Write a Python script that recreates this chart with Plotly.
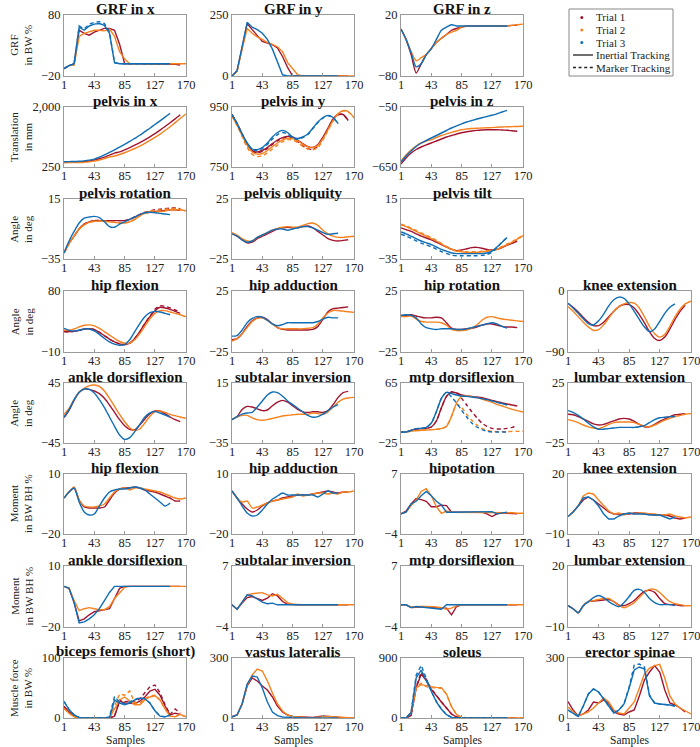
import plotly.graph_objects as go

# ---------------- data ----------------
S_ALL = [1, 8, 15, 22, 29, 36, 43, 50, 57, 64, 71, 78, 85, 92, 99, 106, 113, 120, 127, 134, 141, 148, 155, 162, 170]
X_TICKS = [1, 43, 85, 127, 170]
TRIAL_NAMES = ["Trial 1", "Trial 2", "Trial 3"]
TRIAL_COLORS = ["#A2142F", "#F5821F", "#0F6EB5"]
TRACKING_NAMES = ["Inertial Tracking", "Marker Tracking"]

# GRF in BW %
GRF_X_T1 = [-8, -3, 0, 55, 50, 47, 52, 55, 58, 58, 55, 32, 0, 0, 0, 0, 0, 0, 0, 0, 0, 0, -1, -2]
GRF_X_T2 = [-8, -3, -2, 45, 50, 52, 55, 55, 54, 57, 45, 20, 8, 0, 0, 0, 0, 0, 0, 0, 0, 0, 0, 0, 0]
GRF_X_T3 = [-8, -3, 0, 60, 55, 62, 65, 66, 63, 50, 2, 0, 0, 0, 0, 0, 0, 0, 0, 0, 0, 0]
GRF_X_T3M = [-8, -3, 0, 62, 57, 65, 68, 69, 66, 52, 2, 0, 0, 0, 0, 0, 0, 0, 0, 0, 0, 0]
GRF_Y_T1 = [0, 20, 115, 215, 190, 165, 142, 135, 128, 115, 80, 35, 0, 0, 0, 0, 0, 0, 0, 0, 0, 0, 0, 0]
GRF_Y_T2 = [0, 20, 110, 195, 175, 160, 150, 137, 130, 120, 100, 55, 30, 5, 0, 0, 0, 0, 0, 0, 0, 0, 0, 0, 0]
GRF_Y_T3 = [0, 22, 120, 220, 200, 190, 175, 150, 110, 60, 5, 0, 0, 0, 0, 0, 0, 0, 0, 0, 0, 0]
GRF_Z_T1 = [-3, -20, -45, -75, -60, -45, -35, -25, -18, -12, -5, -2, 0, 2, 2, 2, 2, 2, 2, 2, 2, 2, 3, 3]
GRF_Z_T2 = [-3, -20, -40, -55, -50, -45, -35, -25, -18, -12, -8, -5, 0, 2, 2, 2, 2, 2, 2, 2, 2, 2, 3, 4, 5]
GRF_Z_T3 = [-3, -20, -42, -65, -60, -45, -35, -20, -5, 0, 4, 2, 2, 2, 2, 2, 2, 2, 2, 2, 2, 2]

# Translation in mm
PELVIS_X_T1 = [390, 392, 395, 400, 410, 425, 450, 490, 540, 595, 655, 690, 750, 815, 885, 960, 1040, 1130, 1225, 1325, 1430, 1540, 1655, 1775]
PELVIS_X_T2 = [375, 377, 380, 383, 390, 400, 420, 455, 495, 540, 570, 615, 665, 725, 790, 860, 940, 1025, 1115, 1210, 1315, 1425, 1545, 1665, 1797]
PELVIS_X_T3 = [405, 407, 410, 418, 430, 450, 480, 540, 605, 675, 750, 830, 910, 995, 1085, 1175, 1280, 1380, 1490, 1595, 1705, 1818]
PELVIS_Y_T1 = [925, 895, 860, 828, 805, 800, 805, 815, 828, 840, 848, 852, 850, 840, 828, 818, 815, 825, 850, 880, 910, 925, 925, 905]
PELVIS_Y_T2 = [920, 890, 855, 822, 800, 793, 795, 805, 818, 830, 840, 846, 845, 838, 826, 818, 815, 822, 845, 875, 905, 928, 938, 935, 915]
PELVIS_Y_T3 = [925, 895, 860, 830, 810, 808, 815, 830, 850, 865, 872, 865, 850, 845, 850, 860, 880, 900, 915, 922, 915, 895]
PELVIS_Y_T1M = [925, 895, 860, 826, 802, 797, 802, 812, 825, 837, 845, 849, 846, 834, 821, 811, 809, 820, 846, 878, 908, 924, 924, 904]
PELVIS_Y_T2M = [920, 888, 852, 815, 792, 785, 787, 797, 810, 823, 834, 841, 840, 832, 819, 810, 807, 815, 840, 872, 903, 927, 937, 934, 914]
PELVIS_Y_T3M = [925, 895, 860, 829, 808, 805, 811, 825, 843, 858, 865, 860, 847, 842, 848, 858, 878, 898, 913, 921, 914, 894]
PELVIS_Z_T1 = [-620, -560, -510, -475, -450, -428, -410, -390, -370, -350, -335, -320, -307, -297, -290, -284, -280, -278, -277, -278, -280, -283, -287, -293]
PELVIS_Z_T2 = [-590, -530, -480, -440, -410, -390, -377, -355, -335, -318, -303, -290, -278, -270, -265, -262, -260, -258, -256, -252, -250, -248, -246, -245, -243]
PELVIS_Z_T3 = [-600, -540, -490, -445, -410, -385, -360, -335, -310, -285, -260, -238, -218, -200, -185, -170, -157, -145, -133, -118, -100, -83]

# Pelvis angles in deg
PELVIS_ROT_T1 = [-30, -22, -16, -10, -6, -4, -3, -3, -3, -3, -3, -3, -3, -2, 0, 2, 3.5, 4, 4.5, 5, 5.5, 6, 6, 5.5]
PELVIS_ROT_T2 = [-30, -22, -16, -10, -6.5, -4.5, -3.5, -3.5, -3.5, -4, -4.5, -5, -5, -4, -2, 1, 3, 4, 4, 4.5, 5, 6, 6, 6, 5]
PELVIS_ROT_T3 = [-30, -20, -12, -5, -1, 0, 0.5, -0.5, -4, -8, -8.5, -6, -4, -2, 0, 2, 3.5, 4, 3.5, 3, 2.5, 2]
PELVIS_ROT_T1M = [-30, -22, -16, -10, -6, -4, -3, -3, -3, -3, -3, -3, -3, -2, 0, 2, 4, 5, 6, 6.5, 7, 7.5, 7.5, 7]
PELVIS_ROT_T2M = [-30, -22, -16, -10, -6.5, -4.5, -3.5, -3.5, -3.5, -4, -4.5, -5, -5, -4, -2, 1, 3.5, 5, 5.5, 6, 6.5, 7, 7, 6.5, 5.5]
PELVIS_OBL_T1 = [-4, -6, -9, -11.5, -11, -8, -6, -4, -2, 0, 1, 1.5, 1, 1, 2, 2.5, 1, -2, -5, -8, -9.5, -10, -9.5, -9]
PELVIS_OBL_T2 = [-3, -5, -8, -10, -10, -7, -5, -3, -1, 0.5, 1.5, 2, 1.5, 1.5, 3, 4.5, 5, 3, -1, -4, -6, -7, -7, -6.5, -6]
PELVIS_OBL_T3 = [-4, -6, -9, -11, -10, -7, -5, -3, -1, 0, 0, -1, 0, 1, 2, 2, 1, -1, -3, -4.5, -4, -3.5]
PELVIS_TILT_T1 = [-9, -10.5, -12, -14, -16, -17.5, -19, -21, -23, -25, -27, -28, -27.5, -26.5, -25.5, -25.3, -26, -27, -27.5, -27, -25.5, -23.5, -22, -20]
PELVIS_TILT_T2 = [-6.5, -8, -10, -12, -14, -16, -18, -20, -22.5, -25, -27, -28.5, -29, -29.5, -29.5, -29.5, -29, -28.5, -28, -27, -25, -23, -21, -18.5, -15.5]
PELVIS_TILT_T3 = [-12.5, -14, -16, -18, -20, -21.5, -23, -25, -27, -28.5, -30, -30.5, -30.5, -30.5, -30.5, -30.5, -30.5, -30, -28.5, -25, -21, -17]
PELVIS_TILT_T2M = [-6, -7.3, -9.2, -11.2, -13.2, -15.2, -17.2, -19.5, -22, -24.5, -26.5, -28, -28.5, -29, -29, -29, -28.6, -28, -27.5, -26.5, -24.5, -22.5, -20.5, -18, -15.5]
PELVIS_TILT_T3M = [-14.3, -15.8, -17.8, -19.8, -21.8, -23.3, -24.8, -26.8, -28.8, -30.3, -31.8, -32.3, -32.3, -32.3, -32.3, -32.3, -32, -31.3, -29.5, -25.5, -21, -17]

# Joint angles in deg
HIP_FLEX_T1 = [20, 20, 20.5, 22, 24, 24.5, 23, 19, 14, 9, 5, 2, 1, 3, 10, 20, 32, 42, 51, 56, 55, 53, 50, 47]
HIP_FLEX_T2 = [22, 22, 24, 27, 29.5, 30, 28.5, 25, 20, 15, 10, 5.5, 3, 3, 8, 17, 28, 39, 47, 51, 51, 49, 47, 45, 42]
HIP_FLEX_T3 = [25, 22, 21, 22, 24, 24, 21, 16, 10, 5, 1.5, 0, 1, 8, 20, 32, 42, 48, 50, 49, 47, 45]
HIP_FLEX_T1M = [20, 20, 20.5, 22, 24, 24.5, 23, 19, 14, 9, 5, 2, 1, 3, 10, 20, 32, 43, 53, 58, 57.5, 55, 52, 49]
HIP_ADD_T1 = [-15, -14, -10, -4, 0.5, 3, 3.5, 1.5, -2, -5, -6.5, -7, -7, -7, -7, -7, -6.5, -4, 2, 8, 10.5, 11, 11.5, 12]
HIP_ADD_T2 = [-16, -14, -10, -5, 0, 2.5, 3, 1, -2, -5, -6, -6, -6, -6, -6, -5.5, -5, -2, 3, 7, 9, 9, 8.5, 8, 7.5]
HIP_ADD_T3 = [-12, -11.5, -7, -1, 2.5, 4, 3.5, 1, -2, -3.5, -2.5, -1, -1, -1, -1, -1, -1, 0, 2, 3.5, 3, 3]
HIP_ROT_T1 = [5, 5, 5.5, 4.5, 3.5, 3, 3, 3.5, 3, -1, -5.5, -6.5, -6.5, -6, -5.5, -4.5, -3, -2, -2, -3, -4, -4.5, -4.5, -5]
HIP_ROT_T2 = [4, 4, 4.5, 2, 0, -0.5, -0.5, -0.5, -1, -3, -6.5, -7.5, -7.5, -7, -5.5, -3, 1, 3.5, 4, 3, 2, 1.5, 1, 0.5, 0]
HIP_ROT_T3 = [5, 5.5, 5, 3, -2, -5, -6, -6.5, -6, -6, -6, -6.5, -6.5, -6, -5, -4, -3, -2, -1, -2, -4, -5.5]
KNEE_EXT_T1 = [-18, -24, -31, -39, -46, -51, -51, -46, -38, -30, -23, -20, -20, -25, -35, -47, -60, -70, -73, -68, -56, -42, -30, -21]
KNEE_EXT_T2 = [-23, -30, -38, -46, -53, -58, -57, -50, -40, -30, -23, -19, -17, -18, -25, -38, -52, -63, -68, -64, -52, -38, -27, -19, -15]
KNEE_EXT_T3 = [-18, -25, -33, -41, -48, -50, -44, -34, -22, -13, -9, -11, -19, -30, -42, -53, -60, -56, -45, -33, -24, -19]
ANKLE_DF_T1 = [-7, 4, 19, 31, 36, 35.5, 33, 29, 22, 12, 1, -10, -19, -24.5, -25, -18, -9, -1, 3, 3, -1, -6, -10, -13]
ANKLE_DF_T2 = [-2, 7, 20, 31, 37, 41, 42, 40, 33, 22, 10, -2, -13, -22, -26, -24, -15, -5, 2, 3, 1, -2, -4, -6, -8]
ANKLE_DF_T3 = [-6, 5, 20, 31, 36, 35.5, 30, 20, 8, -6, -20, -33, -39.5, -37, -28, -17, -6, 0, 2, 0, -3, -6]
SUB_INV_T1 = [-15.5, -13, -7, -4.5, -5, -6.5, -8, -7.5, -4, -1, 0.5, -1, -4, -7, -9, -9.5, -9, -9, -9.5, -8, -3, 3, 7, 8]
SUB_INV_T2 = [-15.5, -13.5, -12, -12, -14, -15.5, -16, -15.5, -14.5, -13.5, -12.5, -12, -11.5, -11, -11, -11, -10, -10.5, -11, -9, -5, -1, 1.5, 2.5, 3]
SUB_INV_T3 = [-15.5, -13, -11, -10, -9.5, -5, 0, 5, 7.5, 7, 4, 0, -3, -6, -9, -12, -13.5, -13, -11, -8, -5, -3]
MTP_DF_T1 = [-8.5, -8.5, -6, -4, -3.5, -3, -1, 8, 28, 45, 51.5, 50, 47, 45.5, 45, 44, 43, 41, 39, 37, 35, 33.5, 32, 30.5]
MTP_DF_T2 = [-8.5, -8.5, -7, -6.5, -6, -5.5, -5, -4.5, -3.5, 0, 15, 35, 45, 45.5, 44.5, 43, 41, 38.5, 36, 33, 30.5, 28, 25.5, 23.5, 21.5]
MTP_DF_T3 = [-8.5, -8.5, -6, -3.5, -3, -1.5, 5, 22, 42, 51, 49, 47, 45.5, 45, 44, 43, 41.5, 40, 38, 36, 34, 32]
MTP_DF_T1M = [-8.5, -8.5, -6, -4, -3.5, -3, -1, 8, 28, 45, 51.5, 50, 42, 32, 22, 13, 5, 0, -3, -4, -4, -3, -1.5, 0.5]
MTP_DF_T2M = [-8.5, -8.5, -7, -6.5, -6, -5.5, -5, -4.5, -3.5, 0, 15, 33, 28, 18, 9, 2, -3, -6, -7.5, -8, -8, -8, -7.5, -7.5, -7.5]
MTP_DF_T3M = [-8.5, -8.5, -6, -3.5, -3, -1.5, 5, 22, 42, 51, 44, 35, 24, 14, 5, -1, -5, -7.5, -8.5, -8.5, -8.5, -8.5]
LUMBAR_EXT_T1 = [-1, -1.5, -3, -5, -7, -9, -10, -9.5, -8, -6.5, -5, -4.5, -5, -7, -9.5, -11.5, -11.5, -9.5, -7, -5, -3, -1.5, -1, -0.5]
LUMBAR_EXT_T2 = [-5.5, -6.5, -8, -10, -11.5, -12.5, -13, -11.5, -9.5, -8, -7.5, -7.5, -7.5, -8, -9.5, -11, -11.5, -10, -8, -6, -4.5, -3, -2, -1, -0.5]
LUMBAR_EXT_T3 = [2, 0.5, -2, -5, -8.5, -11.5, -13.5, -13.5, -13, -12.5, -12, -12, -12, -12, -11.5, -10.5, -8, -5.5, -4, -3.5, -3, -3]

# Moments in BW BH %
M_HIP_FLEX_T1 = [-2, 1, 3, -3, -6.5, -7, -7, -7, -6.5, -3, 0.5, 2.5, 3, 3, 3.5, 3, 2, 1.5, 1, 0, -1, -2, -3.5, -3.5]
M_HIP_FLEX_T2 = [-2, 1, 3.5, -3, -6, -6.5, -6.5, -6, -5, -2, 1, 2.5, 3, 2, 3, 3, 2.5, 2, 1.5, 1, 0, -1, -2, -2.5, -2]
M_HIP_FLEX_T3 = [-2, 1, 3, -4, -9, -10.5, -10, -6, -2, 1, 2, 2.5, 2.5, 3, 3.5, 3, 2, 0, -2, -4, -6, -4.5]
M_HIP_ADD_T1 = [1.5, -2, -5, -7.5, -9, -8, -6, -4.5, -3.5, -3, -2, -1.5, -1, -0.5, -0.5, -0.5, 0, 0.5, 1, 1.5, 1, 0.5, 1, 1]
M_HIP_ADD_T2 = [1.5, -2, -4, -3.5, -7, -6.5, -5.5, -4.5, -3.5, -3, -2.5, -2, -1.5, 0, -1, -0.5, 0, 0.5, 0.5, 0, 0.5, 0, 1, 1, 1.5]
M_HIP_ADD_T3 = [1.5, -2, -6, -9.5, -11, -10.5, -8, -5, -2.5, -1, 0.5, -0.5, -0.5, -0.5, -0.5, -0.5, -0.5, -1.5, 0, 1.5, 0.5, 0.5]
M_HIP_ROT_T1 = [-0.3, 0.2, 1.5, 2.5, 2.3, 2, 1, 1, 1.3, 1.2, 0, 0, 0, 0, -0.1, 0, 0, -0.3, -0.8, -0.3, -0.1, -0.2, -0.2, -0.3]
M_HIP_ROT_T2 = [-0.3, 0, 1.2, 2.2, 3.8, 4.3, 3, 1, -0.2, 0.2, 0, 0, 0, 0, 0, 0, 0, 0, -0.1, 0, 0, -0.1, -0.1, -0.2, -0.2]
M_HIP_ROT_T3 = [-0.3, 0, 1.5, 2, 3, 3.8, 3, 2, 1.3, 0, 0, 0, 0, 0, 0, 0, 0, 0, 0.1, -0.3, -0.2, 0]
M_KNEE_EXT_T1 = [-1.3, 1, 4, 7, 8.5, 7, 5, 3, 1, 0, 0, 0, 0, 0.5, 0.5, 0, 0, -0.5, -0.5, -0.5, -1, -2, -2.5, -2]
M_KNEE_EXT_T2 = [-1.3, 1, 4, 9, 10.5, 10, 7, 4, 1.5, 0, 0.5, -0.5, 0.5, 0, 0.5, 0.5, 0, 0, -0.5, -0.5, 0, -1, -1.5, -2, -1.5]
M_KNEE_EXT_T3 = [-1.3, 1, 4, 8, 8.5, 7, 4, 0, -2.5, -2.5, -1, 0, 0.5, 0, 0, 0, -0.5, -0.5, -0.5, -1.5, -2.5, -1.5]
M_ANKLE_DF_T1 = [0, -1, -8, -17, -16, -14, -12.5, -12, -11.5, -11, -6, -1, 0, 0, 0, 0, 0, 0, 0, 0, 0, 0, 0, 0]
M_ANKLE_DF_T2 = [0, -1, -7, -12, -11, -10.5, -11, -11.5, -11.5, -10, -6, -3, -0.5, 0, 0, 0, 0, 0, 0, 0, 0, 0, 0, 0, 0]
M_ANKLE_DF_T3 = [0, -1, -8, -18, -17.5, -16, -14, -11, -7, -3, 0, 0, 0, 0, 0, 0, 0, 0, 0, 0, 0, 0]
M_SUB_INV_T1 = [0, -0.8, 0.3, 1.3, 1.5, 1.2, 0.8, 1.2, 2, 1.6, 0.6, 0.1, 0, 0, 0, 0, 0, 0, 0, 0, 0, 0, 0, 0]
M_SUB_INV_T2 = [0, -0.8, 0.5, 1.8, 2, 2.1, 2.2, 1.8, 1.6, 1.9, 1.2, 0.4, 0.1, 0, 0, 0, 0, 0, 0, 0, 0, 0, 0, 0, 0]
M_SUB_INV_T3 = [0, -0.8, 0.5, 1.8, 1.6, 1, 0.5, 0.2, 0.3, 0, 0, 0, 0, 0, 0, 0, 0, 0, 0, 0, 0, 0]
M_MTP_DF_T1 = [0, 0, -0.5, -0.4, -0.4, -0.4, -0.5, -0.5, -0.6, -0.6, -1.8, -0.3, 0, 0, 0, 0, 0, 0, 0, 0, 0, 0, 0, 0]
M_MTP_DF_T2 = [0, 0, -0.4, -0.3, -0.3, -0.3, -0.3, -0.4, -0.5, -0.8, -0.6, -0.2, 0, 0, 0, 0, 0, 0, 0, 0, 0, 0, 0, 0, 0]
M_MTP_DF_T3 = [0, 0, -0.5, -0.3, -0.4, -0.5, -0.5, -0.6, -0.8, 0, 0, 0, 0, 0, 0, 0, 0, 0, 0, 0, 0, 0]
M_LUMBAR_EXT_T1 = [0.5, -1, -3, 0.5, 2.5, 2.8, 3, 3.3, 3.5, 2.5, 0.8, 0.5, 1.5, 3, 5.5, 7.5, 8, 7, 4, 1.5, 1, 1, 0.5, 0.5]
M_LUMBAR_EXT_T2 = [0.5, -1, -3, 0.5, 2.5, 3, 3.5, 4, 4, 2.5, 0.5, -0.5, 0.5, 2, 4.5, 7, 8.5, 8.5, 7, 4.5, 2.5, 1.5, 1, 0.5, 0.5]
M_LUMBAR_EXT_T3 = [0.5, -1, -3, 0.5, 2.5, 4.5, 5.5, 4.5, 2.5, 1, 0, 2, 5, 8, 8.5, 7, 4, 2, 1, 1, 1, 0.5]

# Muscle forces in BW %
BIC_FEM_T1 = [19, 10, 3, 0.5, 0, 0, 0, 0, 0, 0, 3, 28, 25, 25, 24, 28, 35, 45, 48, 38, 20, 5, 8, 6]
BIC_FEM_T2 = [16, 8, 2, 0, 0, 0, 0, 0, 0, 0, 15, 30, 35, 28, 22, 22, 30, 35, 37, 30, 15, 3, 2, 6, 2]
BIC_FEM_T3 = [27.5, 14, 5, 1, 0, 0, 0, 0, 0, 0, 30, 25, 22, 25, 30, 33, 32, 25, 12, 3, 2, 5]
BIC_FEM_T1M = [19, 10, 3, 0.5, 0, 0, 0, 0, 0, 0, 3, 30, 27, 28, 27, 32, 42, 52, 55, 42, 22, 6, 15, 8]
BIC_FEM_T2M = [16, 8, 2, 0, 0, 0, 0, 0, 0, 0, 20, 40, 38, 45, 25, 24, 32, 37, 38, 30, 15, 3, 2, 6, 2]
BIC_FEM_T3M = [27.5, 14, 5, 1, 0, 0, 0, 0, 0, 2, 36, 26, 24, 27, 31, 34, 32, 25, 12, 3, 2, 5]
VAS_LAT_T1 = [8, 15, 70, 160, 200, 185, 160, 140, 105, 60, 30, 15, 8, 6, 5, 3, 3, 6, 10, 8, 5, 3, 2, 2]
VAS_LAT_T2 = [5, 15, 70, 165, 215, 245, 235, 185, 125, 70, 35, 15, 8, 5, 3, 2, 2, 4, 6, 8, 6, 4, 3, 2, 2]
VAS_LAT_T3 = [5, 15, 70, 170, 210, 205, 150, 80, 30, 12, 5, 3, 2, 1, 0, 0, 0, 0, 0, 0, 0, 0]
SOLEUS_T1 = [0, 0, 40, 450, 660, 560, 430, 330, 240, 150, 60, 15, 0, 0, 0, 0, 0, 0, 0, 8, 5, 0, 0, 0]
SOLEUS_T2 = [0, 0, 80, 450, 500, 480, 470, 460, 455, 360, 170, 50, 10, 5, 0, 0, 0, 0, 0, 0, 0, 0, 0, 0, 0]
SOLEUS_T3 = [0, 0, 80, 600, 720, 560, 380, 240, 130, 50, 10, 0, 0, 0, 0, 0, 0, 0, 0, 0, 0, 0]
SOLEUS_T1M = [0, 0, 40, 470, 690, 580, 440, 335, 240, 150, 60, 15, 0, 0, 0, 0, 0, 0, 0, 8, 5, 0, 0, 0]
SOLEUS_T2M = [0, 0, 80, 470, 520, 470, 455, 450, 445, 360, 170, 50, 10, 5, 0, 0, 0, 0, 0, 0, 0, 0, 0, 0, 0]
SOLEUS_T3M = [0, 0, 85, 640, 790, 600, 400, 250, 135, 50, 10, 0, 0, 0, 0, 0, 0, 0, 0, 0, 0, 0]
ERECTOR_T1 = [82, 40, 10, 20, 40, 80, 75, 90, 75, 30, 20, 15, 30, 40, 110, 190, 230, 262, 230, 140, 75, 65, 50, 30]
ERECTOR_T2 = [55, 30, 10, 20, 30, 50, 75, 100, 80, 40, 25, 20, 50, 80, 150, 220, 250, 262, 268, 200, 110, 70, 50, 35, 20]
ERECTOR_T3 = [40, 25, 8, 60, 120, 145, 130, 95, 60, 25, 40, 70, 150, 240, 255, 245, 110, 75, 70, 68, 65, 60]
ERECTOR_T3M = [40, 25, 8, 60, 120, 145, 130, 95, 60, 25, 40, 70, 155, 265, 270, 255, 115, 75, 70, 68, 65, 60]

ROW_LABELS = ["GRF<br>in BW %", "Translation<br>in mm", "Angle<br>in deg", "Angle<br>in deg",
              "Angle<br>in deg", "Moment<br>in BW BH %", "Moment<br>in BW BH %", "Muscle force<br>in BW %"]

# (row, col, title, ymin, ymax, inertial trials, marker trials, smooth)
PANELS = [
    (0, 0, "GRF in x", -20, 80, [GRF_X_T1, GRF_X_T2, GRF_X_T3], [None, None, GRF_X_T3M], False),
    (0, 1, "GRF in y", 0, 250, [GRF_Y_T1, GRF_Y_T2, GRF_Y_T3], [None, None, None], False),
    (0, 2, "GRF in z", -80, 20, [GRF_Z_T1, GRF_Z_T2, GRF_Z_T3], [None, None, None], True),
    (1, 0, "pelvis in x", 250, 2000, [PELVIS_X_T1, PELVIS_X_T2, PELVIS_X_T3], [None, None, None], True),
    (1, 1, "pelvis in y", 750, 950, [PELVIS_Y_T1, PELVIS_Y_T2, PELVIS_Y_T3], [PELVIS_Y_T1M, PELVIS_Y_T2M, PELVIS_Y_T3M], True),
    (1, 2, "pelvis in z", -650, -50, [PELVIS_Z_T1, PELVIS_Z_T2, PELVIS_Z_T3], [None, None, None], True),
    (2, 0, "pelvis rotation", -35, 15, [PELVIS_ROT_T1, PELVIS_ROT_T2, PELVIS_ROT_T3], [PELVIS_ROT_T1M, PELVIS_ROT_T2M, None], True),
    (2, 1, "pelvis obliquity", -25, 25, [PELVIS_OBL_T1, PELVIS_OBL_T2, PELVIS_OBL_T3], [None, None, None], True),
    (2, 2, "pelvis tilt", -35, 15, [PELVIS_TILT_T1, PELVIS_TILT_T2, PELVIS_TILT_T3], [None, PELVIS_TILT_T2M, PELVIS_TILT_T3M], True),
    (3, 0, "hip flexion", -10, 80, [HIP_FLEX_T1, HIP_FLEX_T2, HIP_FLEX_T3], [HIP_FLEX_T1M, None, None], True),
    (3, 1, "hip adduction", -25, 25, [HIP_ADD_T1, HIP_ADD_T2, HIP_ADD_T3], [None, None, None], True),
    (3, 2, "hip rotation", -25, 25, [HIP_ROT_T1, HIP_ROT_T2, HIP_ROT_T3], [None, None, None], True),
    (3, 3, "knee extension", -90, 0, [KNEE_EXT_T1, KNEE_EXT_T2, KNEE_EXT_T3], [None, None, None], True),
    (4, 0, "ankle dorsiflexion", -45, 45, [ANKLE_DF_T1, ANKLE_DF_T2, ANKLE_DF_T3], [None, None, None], True),
    (4, 1, "subtalar inversion", -35, 15, [SUB_INV_T1, SUB_INV_T2, SUB_INV_T3], [None, None, None], True),
    (4, 2, "mtp dorsiflexion", -25, 65, [MTP_DF_T1, MTP_DF_T2, MTP_DF_T3], [MTP_DF_T1M, MTP_DF_T2M, MTP_DF_T3M], True),
    (4, 3, "lumbar extension", -25, 25, [LUMBAR_EXT_T1, LUMBAR_EXT_T2, LUMBAR_EXT_T3], [None, None, None], True),
    (5, 0, "hip flexion", -20, 10, [M_HIP_FLEX_T1, M_HIP_FLEX_T2, M_HIP_FLEX_T3], [None, None, None], True),
    (5, 1, "hip adduction", -20, 10, [M_HIP_ADD_T1, M_HIP_ADD_T2, M_HIP_ADD_T3], [None, None, None], True),
    (5, 2, "hipotation", -4, 7, [M_HIP_ROT_T1, M_HIP_ROT_T2, M_HIP_ROT_T3], [None, None, None], False),
    (5, 3, "knee extension", -10, 20, [M_KNEE_EXT_T1, M_KNEE_EXT_T2, M_KNEE_EXT_T3], [None, None, None], False),
    (6, 0, "ankle dorsiflexion", -20, 10, [M_ANKLE_DF_T1, M_ANKLE_DF_T2, M_ANKLE_DF_T3], [None, None, None], False),
    (6, 1, "subtalar inversion", -4, 7, [M_SUB_INV_T1, M_SUB_INV_T2, M_SUB_INV_T3], [None, None, None], False),
    (6, 2, "mtp dorsiflexion", -4, 7, [M_MTP_DF_T1, M_MTP_DF_T2, M_MTP_DF_T3], [None, None, None], False),
    (6, 3, "lumbar extension", -10, 20, [M_LUMBAR_EXT_T1, M_LUMBAR_EXT_T2, M_LUMBAR_EXT_T3], [None, None, None], True),
    (7, 0, "biceps femoris (short)", 0, 100, [BIC_FEM_T1, BIC_FEM_T2, BIC_FEM_T3], [BIC_FEM_T1M, BIC_FEM_T2M, BIC_FEM_T3M], False),
    (7, 1, "vastus lateralis", 0, 300, [VAS_LAT_T1, VAS_LAT_T2, VAS_LAT_T3], [None, None, None], False),
    (7, 2, "soleus", 0, 900, [SOLEUS_T1, SOLEUS_T2, SOLEUS_T3], [SOLEUS_T1M, SOLEUS_T2M, SOLEUS_T3M], False),
    (7, 3, "erector spinae", 0, 300, [ERECTOR_T1, ERECTOR_T2, ERECTOR_T3], [None, None, ERECTOR_T3M], False),
]

# ---------------- layout geometry (pixels of the 700x747 window) ----------------
W, H = 700, 747
COL_PX = [(64, 186), (232, 354), (401, 523), (568, 691)]
ROW_PX = [(15, 76), (107, 167), (199, 259), (291, 352), (383, 443), (474, 534), (566, 627), (658, 718)]
LEGEND_BOX = (569, 9, 673, 76)
LEGEND_ROWS = [17.5, 30, 42.5, 55, 67.5]
SERIF = "Liberation Serif"
AXIS_COLOR = "#9a9a9a"
DASH = "4px,3px"


def fmt(v):
    s = f"{abs(v):,}"
    return ("\u2212" + s) if v < 0 else s


def px(xp):
    return xp / W


def py(yp):
    return 1 - yp / H


fig = go.Figure()
layout = dict(
    width=W, height=H, margin=dict(l=0, r=0, t=0, b=0, autoexpand=False),
    paper_bgcolor="white", plot_bgcolor="white",
    font=dict(family=SERIF, size=12, color="#222"),
    showlegend=False,
)
annotations = []
shapes = []

axis_common = dict(
    showline=True, mirror=True, linecolor=AXIS_COLOR, linewidth=1,
    ticks="inside", ticklen=3, tickcolor=AXIS_COLOR, automargin=False,
    showgrid=False, zeroline=False, tickfont=dict(size=12.5, family=SERIF, color="#222"),
)

for k, (r, c, title, ymin, ymax, trials, markers, smooth) in enumerate(PANELS, start=1):
    x0, x1 = COL_PX[c]
    y0, y1 = ROW_PX[r]
    xa, ya = f"x{k}", f"y{k}"
    layout[f"xaxis{k}"] = dict(
        domain=[px(x0), px(x1)], anchor=ya, range=[1, 170], ticklabelstandoff=-3,
        ticklabeloverflow="allow",
        tickvals=X_TICKS, ticktext=[str(t) for t in X_TICKS], **axis_common)
    layout[f"yaxis{k}"] = dict(
        domain=[py(y1), py(y0)], anchor=xa, range=[ymin, ymax],
        tickvals=[ymin, ymax], ticktext=[fmt(ymin), fmt(ymax)], **axis_common)
    line_shape = dict(shape="spline", smoothing=0.7) if smooth else dict(shape="linear")
    for i in range(3):
        vals = trials[i]
        fig.add_trace(go.Scatter(
            x=S_ALL[:len(vals)], y=vals, mode="lines", xaxis=xa, yaxis=ya,
            line=dict(color=TRIAL_COLORS[i], width=1.4, **line_shape),
            showlegend=False, hoverinfo="skip"))
        mv = markers[i]
        if mv is not None:
            fig.add_trace(go.Scatter(
                x=S_ALL[:len(mv)], y=mv, mode="lines", xaxis=xa, yaxis=ya,
                line=dict(color=TRIAL_COLORS[i], width=1.4, dash=DASH, **line_shape),
                showlegend=False, hoverinfo="skip"))
    annotations.append(dict(
        text=f"<b>{title}</b>", x=px((x0 + x1) / 2), y=py(y0),
        xref="paper", yref="paper", xanchor="center", yanchor="bottom", borderpad=0,
        showarrow=False, font=dict(family=SERIF, size=15, color="#111"), yshift=-3))

for r, lab in enumerate(ROW_LABELS):
    y0, y1 = ROW_PX[r]
    annotations.append(dict(
        text=lab, x=px(21), y=py((y0 + y1) / 2), xref="paper", yref="paper",
        xanchor="center", yanchor="middle", textangle=-90, showarrow=False,
        font=dict(family=SERIF, size=11, color="#222")))

for c in range(4):
    x0, x1 = COL_PX[c]
    annotations.append(dict(
        text="Samples", x=px((x0 + x1) / 2), y=py(740.5), xref="paper", yref="paper",
        xanchor="center", yanchor="middle", showarrow=False, borderpad=0,
        font=dict(family=SERIF, size=11.5, color="#222")))

# legend (drawn manually to match the compact LaTeX-style legend box)
lx0, ly0, lx1, ly1 = LEGEND_BOX
shapes.append(dict(type="rect", xref="paper", yref="paper",
                   x0=px(lx0), x1=px(lx1), y0=py(ly1), y1=py(ly0),
                   line=dict(color="#888", width=1), fillcolor="white", layer="above"))
for i in range(3):
    yy = LEGEND_ROWS[i]
    shapes.append(dict(type="circle", xref="paper", yref="paper",
                       x0=px(580.3), x1=px(583.3), y0=py(yy + 1.5), y1=py(yy - 1.5),
                       line=dict(width=0), fillcolor=TRIAL_COLORS[i], layer="above"))
    annotations.append(dict(text=TRIAL_NAMES[i], x=px(594), y=py(yy), xref="paper", yref="paper",
                            xanchor="left", yanchor="middle", showarrow=False,
                            font=dict(family=SERIF, size=11, color="#222")))
for j, dash in enumerate(["solid", "3px,2.6px"]):
    yy = LEGEND_ROWS[3 + j]
    shapes.append(dict(type="line", xref="paper", yref="paper",
                       x0=px(573), x1=px(593), y0=py(yy), y1=py(yy),
                       line=dict(color="#222", width=1.3, dash=dash), layer="above"))
    annotations.append(dict(text=TRACKING_NAMES[j], x=px(594), y=py(yy), xref="paper", yref="paper",
                            xanchor="left", yanchor="middle", showarrow=False,
                            font=dict(family=SERIF, size=11, color="#222")))

layout["annotations"] = annotations
layout["shapes"] = shapes
fig.update_layout(**layout)
# the page body gets a default 8px margin; remove it so the figure fills the window exactly
fig.write_html("out.html", config={"displayModeBar": False},
               post_script="document.body.style.margin='0px';")
